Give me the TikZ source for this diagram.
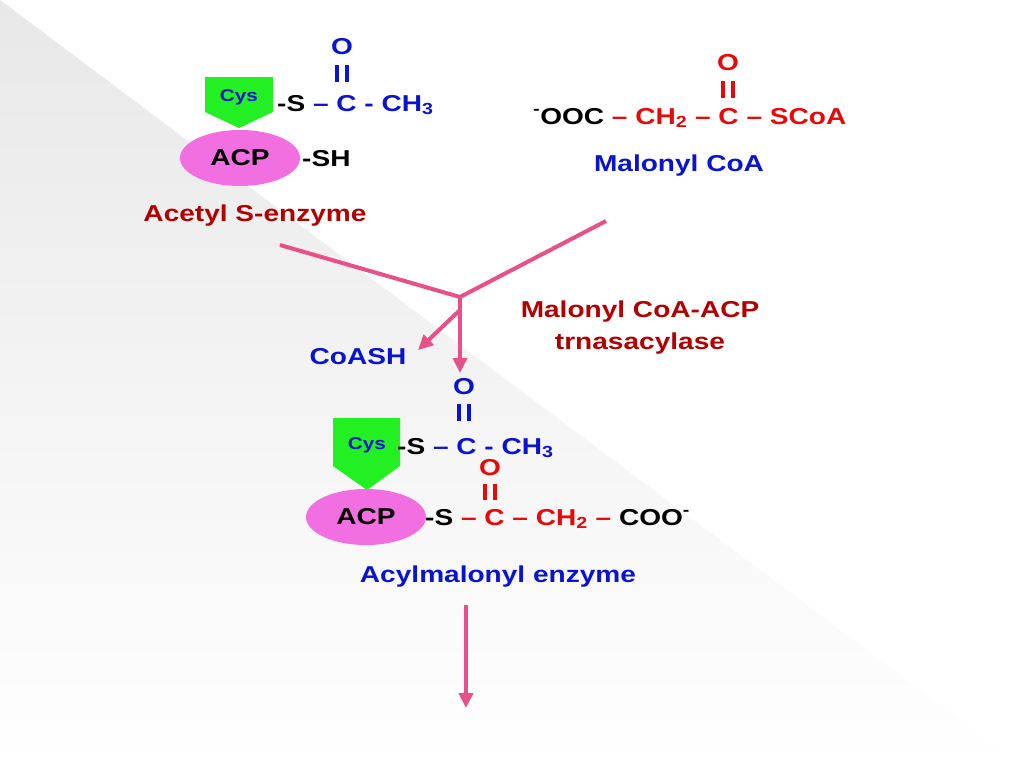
\documentclass[tikz,border=0pt]{standalone}
\usepackage{fontspec}
\setmainfont[FakeStretch=1.22]{Liberation Sans}
\usetikzlibrary{arrows.meta,shapes.geometric}
\definecolor{bl}{HTML}{0A14D0}
\definecolor{rd}{HTML}{E80808}
\definecolor{dr}{HTML}{B00000}
\definecolor{pk}{HTML}{F26FE2}
\definecolor{gr}{HTML}{22F022}
\definecolor{ar}{HTML}{E8508A}
\begin{document}
\begin{tikzpicture}[x=1pt,y=-1pt,
  t/.style={font=\fontsize{23}{26}\bfseries\selectfont,inner sep=0pt},
  ts/.style={font=\fontsize{17}{18}\bfseries\selectfont,inner sep=0pt},
  acp/.style={ellipse,fill=pk,minimum width=120pt,minimum height=56pt,inner sep=0pt,font=\fontsize{23}{26}\bfseries\selectfont},
  cys/.style={fill=gr},
  dbl/.style={line width=3.2pt},
  arr/.style={draw=ar,line width=4pt,-{Triangle[length=15pt,width=14pt]}},
  ln/.style={draw=ar,line width=4pt}]
\useasboundingbox (0,0) rectangle (1024,768);
\fill[white] (0,0) rectangle (1024,768);
\shade[top color=gray!18,bottom color=white] (0,0) -- (1024,768) -- (0,768) -- cycle;
% top acetyl enzyme
\fill[cys] (205,77) -- (273,77) -- (273,112) -- (239,128) -- (205,112) -- cycle;
\node[ts,text=bl] (cys1) at (239,97) {Cys};
\node[acp] (acp1) at (240,158) {ACP};
\node[t,anchor=base west] (sh) at (302,166) {-SH};
\node[t,text=bl] (o1) at (342,47) {O};
\draw[bl,dbl] (337,65)--(337,82) (347,65)--(347,82);
\node[t,anchor=base west] (s1) at (277,111) {-S \textcolor{bl}{– C - CH\textsubscript{3}}};
\node[t,text=dr] (acetyl) at (255,216) {Acetyl S-enzyme};
% malonyl CoA
\node[t,text=rd] (o2) at (728,63) {O};
\draw[rd,dbl] (723,81)--(723,98) (733,81)--(733,98);
\node[t,anchor=base west] (mal) at (533,124) {\textsuperscript{-}OOC \textcolor{rd}{– CH\textsubscript{2} – C – SCoA}};
\node[t,text=bl] (malname) at (679,166) {Malonyl CoA};
% arrows
\coordinate (a1) at (280,245);
\coordinate (a2) at (606,221);
\coordinate (j) at (460,297);
\coordinate (j2) at (460,310);
\coordinate (e1) at (460,373);
\coordinate (e2) at (418,350);
\draw[ln] (a1) -- (j) -- (a2);
\draw[ln] (j) -- (j2);
\draw[arr] (j2) -- (e1);
\draw[arr] (j2) -- (e2);
\node[t,text=bl] (coash) at (358,357) {CoASH};
\node[t,text=dr,align=center,font=\fontsize{23}{32}\bfseries\selectfont] (enz) at (640,328) {Malonyl CoA-ACP\\trnasacylase};
% acylmalonyl enzyme
\fill[cys] (333,418) -- (400,418) -- (400,466) -- (367,490) -- (333,466) -- cycle;
\node[ts,text=bl] (cys2) at (367,445) {Cys};
\node[acp] (acp2) at (366,517) {ACP};
\node[t,text=bl] (o3) at (464,387) {O};
\draw[bl,dbl] (459,404)--(459,421) (469,404)--(469,421);
\node[t,anchor=base west] (s3) at (397,454) {-S \textcolor{bl}{– C - CH\textsubscript{3}}};
\node[t,text=rd] (o4) at (490,468) {O};
\draw[rd,dbl] (485,484)--(485,500) (495,484)--(495,500);
\node[t,anchor=base west] (s4) at (425,525) {-S \textcolor{rd}{– C – CH\textsubscript{2} –} COO\textsuperscript{-}};
\node[t,text=bl] (acyl) at (498,577) {Acylmalonyl enzyme};
\coordinate (b1) at (466,605);
\coordinate (b2) at (466,708);
\draw[arr] (b1) -- (b2);
\end{tikzpicture}
\end{document}
